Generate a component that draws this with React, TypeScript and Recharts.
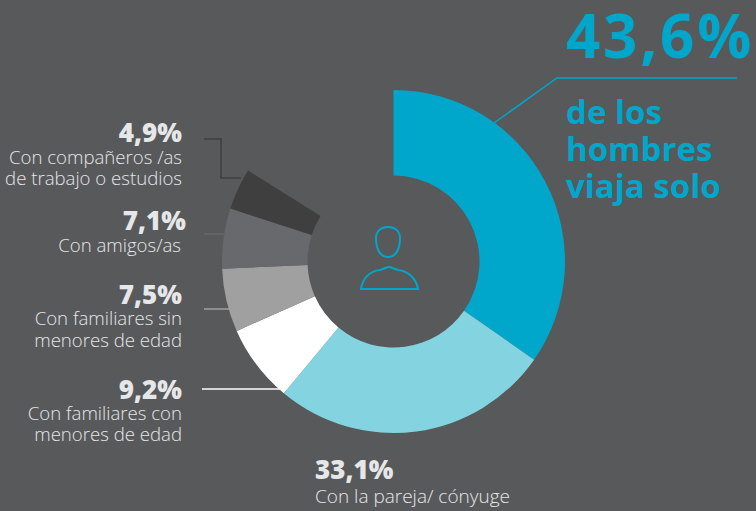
import { Cell, Pie, PieChart } from "recharts";

const CATEGORIES = [
  "Solo",
  "Con la pareja/ cónyuge",
  "Con familiares con menores de edad",
  "Con familiares sin menores de edad",
  "Con amigos/as",
  "Con compañeros /as de trabajo o estudios",
];
const VALUES = [43.6, 33.1, 9.2, 7.5, 7.1, 4.9];
const COLORS = ["#00a7cb", "#83d3e1", "#ffffff", "#a0a0a0", "#68696c", "#3f3f3f"];

const chartData = CATEGORIES.map((name, i) => ({ name, value: VALUES[i] }));

const BG = "#58595b";
const TEAL = "#00a7cb";
const LIGHT = "#e6e7e8";
const FONT = "'Open Sans', sans-serif";

function Pct({ x, y, children }: { x: number; y: number; children: string }) {
  return (
    <text x={x} y={y} textAnchor="end" fontSize={26} fontWeight={800} fill={LIGHT}>
      {children}
    </text>
  );
}

function Desc({ x, y, children }: { x: number; y: number; children: string }) {
  return (
    <text x={x} y={y} textAnchor="end" fontSize={18.6} fontWeight={300} fill={LIGHT}>
      {children}
    </text>
  );
}

export default function App() {
  return (
    <div
      style={{
        position: "absolute",
        top: 0,
        left: 0,
        width: 756,
        height: 511,
        overflow: "hidden",
        background: BG,
        fontFamily: FONT,
      }}
    >
      <PieChart width={756} height={511} margin={{ top: 0, right: 0, bottom: 0, left: 0 }}>
        <Pie
          data={chartData}
          dataKey="value"
          nameKey="name"
          cx={393.5}
          cy={261.5}
          innerRadius={86}
          outerRadius={171.5}
          startAngle={90}
          endAngle={-212}
          stroke="none"
          isAnimationActive={false}
        >
          {chartData.map((d, i) => (
            <Cell key={d.name} fill={COLORS[i]} />
          ))}
        </Pie>
      </PieChart>
      <svg
        width={756}
        height={511}
        style={{ position: "absolute", top: 0, left: 0, pointerEvents: "none" }}
      >
        {/* leaders */}
        <polyline points="204,139 221,139 221,178 241,178" fill="none" stroke="#3f3f3f" strokeWidth={1.5} />
        <line x1={204} y1={234} x2={224} y2={234} stroke="#68696c" strokeWidth={1.5} />
        <line x1={204} y1={309} x2={229} y2={309} stroke="#a0a0a0" strokeWidth={1.5} />
        <line x1={202} y1={389} x2={284} y2={389} stroke="#ffffff" strokeWidth={1.5} />
        <polyline points="494,123 557,78 737,78" fill="none" stroke={TEAL} strokeWidth={1.5} />

        {/* left labels */}
        <Pct x={182} y={142}>4,9%</Pct>
        <Desc x={182} y={164}>Con compañeros /as</Desc>
        <Desc x={182} y={185}>de trabajo o estudios</Desc>
        <Pct x={186} y={230}>7,1%</Pct>
        <Desc x={181} y={252}>Con amigos/as</Desc>
        <Pct x={182} y={304}>7,5%</Pct>
        <Desc x={182} y={325}>Con familiares sin</Desc>
        <Desc x={182} y={347}>menores de edad</Desc>
        <Pct x={182} y={399}>9,2%</Pct>
        <Desc x={182} y={420}>Con familiares con</Desc>
        <Desc x={182} y={441}>menores de edad</Desc>

        {/* bottom label */}
        <text x={315} y={479} fontSize={26} fontWeight={800} fill={LIGHT}>33,1%</text>
        <text x={315} y={503} fontSize={19} fontWeight={300} fill={LIGHT}>Con la pareja/ cónyuge</text>

        {/* headline */}
        <text x={566} y={58} fontSize={60} fontWeight={700} letterSpacing={2.8} fill={TEAL}>43,6%</text>
        <text x={566} y={124} fontSize={33} fontWeight={700} fill={TEAL}>de los</text>
        <text x={566} y={161} fontSize={33} fontWeight={700} fill={TEAL}>hombres</text>
        <text x={566} y={198} fontSize={33} fontWeight={700} fill={TEAL}>viaja solo</text>

        {/* person icon */}
        <g fill="none" stroke={TEAL} strokeWidth={2}>
          <path d="M388 227 C395 227 400 231 400 238 C400 249 396 257 388 257 C380 257 376 249 376 238 C376 231 381 227 388 227 Z" />
          <path d="M361 289 L418 289 C416 278 408 271 398 270 C394 269 391 267 389 267 C387 267 384 269 380 270 C370 271 363 278 361 289 Z" />
        </g>
      </svg>
    </div>
  );
}
